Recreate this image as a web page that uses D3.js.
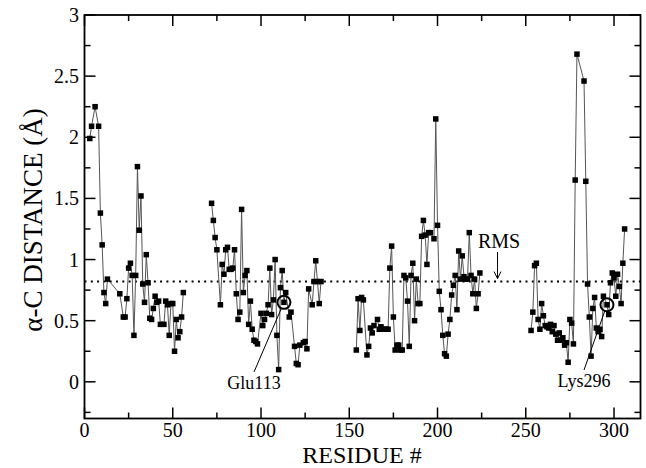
<!DOCTYPE html>
<html><head><meta charset="utf-8">
<script src="https://cdn.jsdelivr.net/npm/d3@7"></script>
<style>body{margin:0;background:#fff}svg{display:block}</style>
</head><body>
<script>
// ---- data ----
const residues1 = [3,4,6,8,9,10,11,12,13,20,22,23,24,25,26,27,28,29,30,31,32,33,34,35,36,37,38,39,40,41,42,43,45,46,47,48,49,50,51,52,53,54,55,56];
const distance1 = [1.99,2.09,2.25,2.09,1.38,1.12,0.73,0.64,0.84,0.72,0.53,0.53,0.68,0.93,0.97,0.87,0.38,0.87,1.76,1.24,1.52,0.80,0.65,1.04,0.81,0.52,0.51,0.60,0.70,0.65,0.66,0.47,0.47,0.66,0.63,0.38,0.64,0.64,0.25,0.51,0.36,0.41,0.53,0.73];
const residues2 = [72,73,74,75,77,78,79,80,81,82,83,84,85,86,87,88,89,90,91,92,93,94,95,96,97,98,100,101,102,103,104,105,106,107,108,109,110,111,112,113,114,116,117,119,120,121,122,124,125,126,127,129,130,131,132,133,134];
const distance2 = [1.46,1.32,1.18,1.08,0.63,0.96,0.88,1.08,1.10,0.92,0.92,0.93,1.08,0.72,0.51,0.57,1.41,0.73,0.87,0.91,0.47,0.66,0.43,0.34,0.33,0.31,0.56,0.46,0.51,0.56,0.63,0.93,0.55,0.67,1.00,0.38,0.10,0.77,0.91,0.65,0.73,0.53,0.57,0.29,0.15,0.14,0.30,0.32,0.33,0.27,0.76,0.63,0.82,0.99,0.82,0.64,0.82];
const residues3 = [154,155,156,157,158,160,161,162,163,164,166,167,168,170,171,172,173,174,175,176,177,178,179,180,181,182,183,184,185,186,187,188,189,190,191,192,193,194,195,196,198,199,200,201,202,203,204,205,206,207,208,209,210,211,212,213,214,215,216,217,218,219,220,221,222,223,224];
const distance3 = [0.26,0.68,0.42,0.69,0.67,0.22,0.29,0.44,0.40,0.46,0.51,0.43,0.45,0.43,0.43,0.43,0.93,1.11,0.53,0.26,0.30,0.30,0.26,0.26,0.87,0.85,0.66,0.29,0.87,0.97,0.50,0.84,0.64,0.64,1.19,1.32,1.20,0.96,1.22,1.22,1.17,2.15,1.28,0.74,0.59,0.38,0.23,0.21,0.39,0.51,0.71,0.79,0.87,0.59,1.07,0.84,1.03,0.86,0.84,0.84,1.22,0.87,0.72,0.84,0.60,0.72,0.89];
const residues4 = [253,254,255,256,257,258,259,260,261,262,263,264,265,266,267,268,269,270,271,272,273,274,275,276,277,278,279,283,284,285,286,287,288,289,290,291,292,293,294,296,297,298,299,300,301,302,303,304,305,306];
const distance4 = [0.42,0.57,0.95,0.97,0.51,0.43,0.64,0.54,0.46,0.45,0.44,0.47,0.41,0.46,0.39,0.34,0.40,0.34,0.36,0.30,0.32,0.16,0.51,0.48,0.31,1.65,2.68,2.46,1.64,0.80,0.53,0.21,0.60,0.69,0.44,0.41,0.43,0.37,0.70,0.63,0.55,0.81,0.89,0.85,0.70,0.88,0.78,0.64,0.97,1.25];
const rmsValue = 0.82;
const xTicks = [0,50,100,150,200,250,300];
const yTicks = [0,0.5,1,1.5,2,2.5,3];
const highlightResidues = [113, 296];
const highlightLabels = ["Glu113", "Lys296"];
const xTitle = "RESIDUE #";
const yTitle = "\u03B1-C DISTANCE (\u00C5)";
const rmsLabel = "RMS";

const FONT = "'Liberation Serif', 'Times New Roman', 'DejaVu Serif', serif";
const W = 646, H = 468;
const svg = d3.select("body").append("svg").attr("width", W).attr("height", H)
  .attr("font-family", FONT).style("font-family", FONT);
const x = d3.scaleLinear().domain([0, 315]).range([84.5, 640.5]);
const y = d3.scaleLinear().domain([-0.3, 3]).range([418.5, 15]);

const segs = [[residues1, distance1],[residues2, distance2],[residues3, distance3],[residues4, distance4]]
  .map(([r, v]) => r.map((d, i) => ({r: d, v: v[i]})));

// RMS dotted line
svg.append("line").attr("x1", x(0)).attr("x2", x(315)).attr("y1", y(rmsValue)).attr("y2", y(rmsValue))
  .attr("stroke", "#000").attr("stroke-width", 2).attr("stroke-dasharray", "2,4.3");

const line = d3.line().x(d => x(d.r)).y(d => y(d.v));
segs.forEach(s => {
  svg.append("path").attr("d", line(s)).attr("fill", "none").attr("stroke", "#555").attr("stroke-width", 1);
});
segs.forEach(s => {
  svg.append("g").selectAll("rect").data(s).join("rect")
    .attr("x", d => x(d.r) - 2.75).attr("y", d => y(d.v) - 2.75)
    .attr("width", 5.5).attr("height", 5.5).attr("fill", "#000");
});

// frame with inward ticks
const g = svg.append("g");
const minorX = d3.range(0, 316, 25), minorY = d3.range(-0.25, 3.01, 0.25);
function tick(x1,y1,x2,y2){ g.append("line").attr("x1",x1).attr("y1",y1).attr("x2",x2).attr("y2",y2).attr("stroke","#000").attr("stroke-width",1.5); }
minorX.forEach(v => {
  const L = (v % 50 === 0) ? 11 : 6;
  tick(x(v), y(-0.3), x(v), y(-0.3) - L);
  tick(x(v), y(3), x(v), y(3) + L);
});
minorY.forEach(v => {
  const major = Math.abs(v*2 - Math.round(v*2)) < 1e-6;
  const L = major ? 11 : 6;
  tick(x(0), y(v), x(0) + L, y(v));
  tick(x(315), y(v), x(315) - L, y(v));
});
g.append("rect").attr("x", x(0)).attr("y", y(3)).attr("width", x(315) - x(0)).attr("height", y(-0.3) - y(3))
  .attr("fill", "none").attr("stroke", "#000").attr("stroke-width", 1.8);

g.selectAll("text.xt").data(xTicks).join("text").attr("class","xt")
  .attr("x", d => x(d)).attr("y", 437).attr("text-anchor", "middle").attr("font-size", 20).text(d => d);
g.selectAll("text.yt").data(yTicks).join("text").attr("class","yt")
  .attr("x", 79).attr("y", d => y(d) + 7).attr("text-anchor", "end").attr("font-size", 20).text(d => d);

svg.append("text").attr("x", 362).attr("y", 463).attr("text-anchor", "middle").attr("font-size", 24).text(xTitle);
svg.append("text").attr("transform", "translate(42,220) rotate(-90)").attr("text-anchor", "middle").attr("font-size", 27).text(yTitle);

// RMS annotation
svg.append("text").attr("x", 499).attr("y", 248).attr("text-anchor", "middle").attr("font-size", 20).text(rmsLabel);
svg.append("line").attr("x1", x(234)).attr("x2", x(234)).attr("y1", 252).attr("y2", y(rmsValue) - 3).attr("stroke", "#000").attr("stroke-width", 1);
svg.append("path").attr("d", `M${x(234)-3.5},${y(rmsValue)-10} L${x(234)},${y(rmsValue)-3} L${x(234)+3.5},${y(rmsValue)-10}`).attr("fill","none").attr("stroke","#000").attr("stroke-width",1);

// highlighted residues
const allPts = segs.flat();
const labelPos = [[254, 389], [584, 387]];
highlightResidues.forEach((res, i) => {
  const p = allPts.find(d => d.r === res);
  const cx = x(p.r), cy = y(p.v);
  svg.append("circle").attr("cx", cx).attr("cy", cy).attr("r", 6.5).attr("fill", "none").attr("stroke", "#000").attr("stroke-width", 2);
  const [lx, ly] = labelPos[i];
  const ang = Math.atan2(ly - 17 - cy, lx - cx);
  svg.append("line").attr("x1", cx + 6.5*Math.cos(ang)).attr("y1", cy + 6.5*Math.sin(ang)).attr("x2", lx).attr("y2", ly - 17)
    .attr("stroke", "#000").attr("stroke-width", 1);
  svg.append("text").attr("x", lx).attr("y", ly).attr("text-anchor", "middle").attr("font-size", 18).text(highlightLabels[i]);
});
</script>
</body></html>
